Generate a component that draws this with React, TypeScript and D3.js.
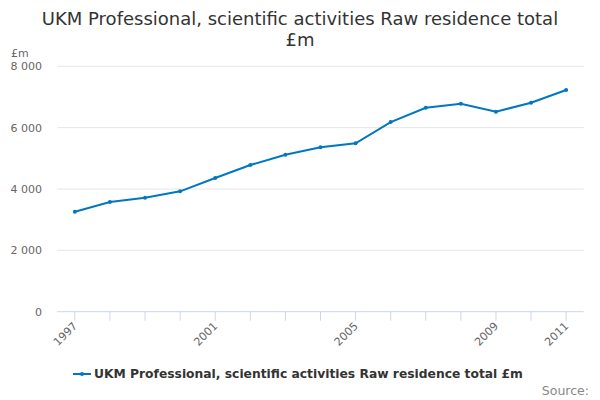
import React, { useEffect, useRef } from 'react';
import * as d3 from 'd3';

const years: string[] = [
  '1997', '1998', '1999', '2000', '2001', '2002', '2003', '2004',
  '2005', '2006', '2007', '2008', '2009', '2010', '2011',
];
const values: number[] = [
  3260, 3575, 3716, 3924, 4358, 4782, 5118, 5358,
  5489, 6183, 6650, 6780, 6519, 6812, 7226,
];
const labelledYears: string[] = ['1997', '2001', '2005', '2009', '2011'];
const yTicks: number[] = [0, 2000, 4000, 6000, 8000];
const seriesName = 'UKM Professional, scientific activities Raw residence total £m';

const App: React.FC = () => {
  const chartRef = useRef<SVGSVGElement | null>(null);

  useEffect(() => {
    if (!chartRef.current) return;
    const font = '"DejaVu Sans", "Lucida Grande", sans-serif';
    const color = '#0077c0';

    const svg = d3.select(chartRef.current);
    svg.selectAll('*').remove();
    svg.attr('width', 600).attr('height', 400).style('font-family', font);

    svg.append('rect').attr('width', 600).attr('height', 400).attr('fill', '#fff');

    // Title
    const title = svg
      .append('text')
      .attr('text-anchor', 'middle')
      .attr('fill', '#333')
      .attr('font-size', 18);
    title.append('tspan').attr('x', 300).attr('y', 25).text('UKM Professional, scientific activities Raw residence total');
    title.append('tspan').attr('x', 300).attr('y', 46).text('£m');

    const left = 57.3;
    const right = 583.7;
    const top = 66.3;
    const bottom = 311.7;

    const x = d3.scaleBand<string>().domain(years).range([left, right]);
    const cx = (d: string) => (x(d) || 0) + x.bandwidth() / 2;

    const y = d3.scaleLinear().domain([0, 8000]).range([bottom, top]);

    // Grid lines
    svg
      .append('g')
      .selectAll('line')
      .data(yTicks.filter((t) => t > 0))
      .enter()
      .append('line')
      .attr('x1', left)
      .attr('x2', right)
      .attr('y1', (d) => y(d))
      .attr('y2', (d) => y(d))
      .attr('stroke', '#e6e6e6')
      .attr('stroke-width', 1);

    // Y labels
    const fmt = (v: number) => d3.format(',')(v).replace(/,/g, ' ');
    svg
      .append('g')
      .selectAll('text')
      .data(yTicks)
      .enter()
      .append('text')
      .attr('x', 42)
      .attr('y', (d) => y(d) + 4)
      .attr('text-anchor', 'end')
      .attr('font-size', 11)
      .attr('fill', '#666')
      .text((d) => fmt(d));

    svg
      .append('text')
      .attr('x', 11)
      .attr('y', 57)
      .attr('font-size', 11)
      .attr('fill', '#666')
      .text('£m');

    // X axis
    svg
      .append('line')
      .attr('x1', left)
      .attr('x2', right)
      .attr('y1', bottom)
      .attr('y2', bottom)
      .attr('stroke', '#ccd6eb');

    svg
      .append('g')
      .selectAll('line')
      .data(years)
      .enter()
      .append('line')
      .attr('x1', (d) => cx(d))
      .attr('x2', (d) => cx(d))
      .attr('y1', bottom)
      .attr('y2', bottom + 9)
      .attr('stroke', '#ccd6eb');

    svg
      .append('g')
      .selectAll('text')
      .data(labelledYears)
      .enter()
      .append('text')
      .attr('transform', (d) => `translate(${cx(d) + 3},${bottom + 15}) rotate(-45)`)
      .attr('text-anchor', 'end')
      .attr('font-size', 11)
      .attr('fill', '#666')
      .text((d) => d);

    // Line
    const line = d3
      .line<number>()
      .x((_, i) => cx(years[i]))
      .y((d) => y(d));

    svg
      .append('path')
      .datum(values)
      .attr('d', line)
      .attr('fill', 'none')
      .attr('stroke', color)
      .attr('stroke-width', 2);

    svg
      .append('g')
      .selectAll('circle')
      .data(values)
      .enter()
      .append('circle')
      .attr('cx', (_, i) => cx(years[i]))
      .attr('cy', (d) => y(d))
      .attr('r', 2)
      .attr('fill', color);

    // Legend
    svg
      .append('line')
      .attr('x1', 73)
      .attr('x2', 91)
      .attr('y1', 374)
      .attr('y2', 374)
      .attr('stroke', color)
      .attr('stroke-width', 2);
    svg
      .append('circle')
      .attr('cx', 82)
      .attr('cy', 374)
      .attr('r', 2)
      .attr('fill', color);
    svg
      .append('text')
      .attr('x', 94)
      .attr('y', 378)
      .attr('font-size', 12.3)
      .attr('font-weight', 'bold')
      .attr('fill', '#333')
      .text(seriesName);

    svg
      .append('text')
      .attr('x', 589)
      .attr('y', 395)
      .attr('text-anchor', 'end')
      .attr('font-size', 12.5)
      .attr('fill', '#888')
      .text('Source:');
  }, []);

  return <svg ref={chartRef} style={{ position: 'absolute', left: 0, top: 0 }}></svg>;
};

export default App;
